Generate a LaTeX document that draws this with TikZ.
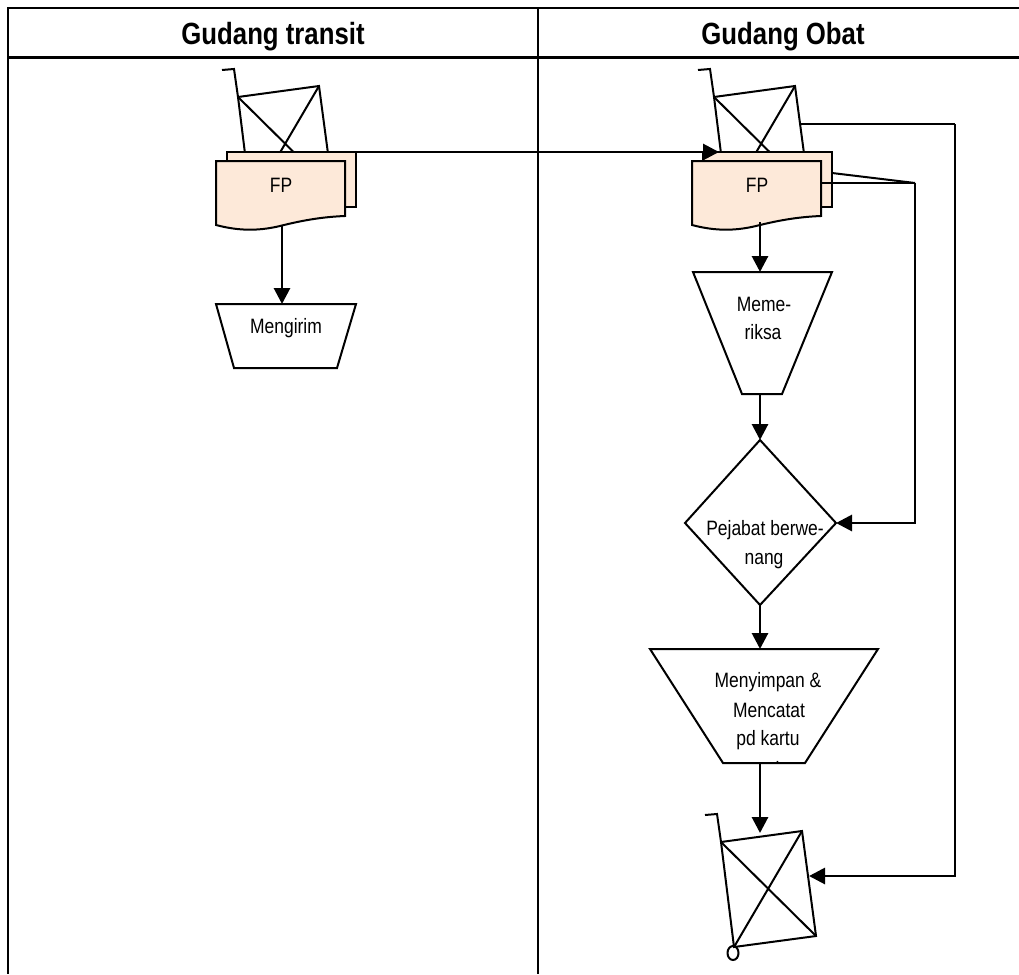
\documentclass[tikz,border=0pt]{standalone}
\usepackage{fontspec}
\setmainfont[FakeStretch=0.84]{Liberation Sans}
\usetikzlibrary{arrows.meta}
\definecolor{docfill}{HTML}{FDE9D9}
\tikzset{
  grid line/.style={line width=1.9pt,black},
  shape line/.style={line width=1.5pt,black,line join=miter},
  link/.style={line width=1.5pt,black},
  flow/.style={line width=2.2pt,black,-{Triangle[length=12pt,width=12pt]}},
  label/.style={anchor=base,inner sep=0pt,font=\fontsize{15.6pt}{18pt}\selectfont,text=black},
  head/.style={anchor=base,inner sep=0pt,font=\fontsize{23pt}{26pt}\selectfont\bfseries,text=black},
  cart/.pic={
    \draw[shape line] (-16,-27) -- (-4,-28) -- (0,0) -- (13,105) -- (95,94) -- (81,-11) -- (0,0);
    \draw[shape line] (0,0) -- (95,94) (81,-11) -- (13,105);
    \draw[shape line] (12,111) ellipse [x radius=5.5,y radius=7];
  },
  docs/.pic={
    \draw[shape line,fill=docfill] (-11,55) rectangle (118,110);
    \coordinate (-backright) at (118,55);
    \coordinate (-backleft) at (5,55);
  },
  docfront/.pic={
    \draw[shape line,fill=docfill] (-22,64) -- (107,64) -- (107,119)
      .. controls (82,120) and (62,124) .. (42,129)
      .. controls (17,135) and (-3,133) .. (-22,128) -- cycle;
    \node[label] (-text) at (43,95) {FP};
  }
}
\begin{document}
\begin{tikzpicture}[x=0.75pt,y=-0.75pt]
\useasboundingbox (0,0) rectangle (1019,974);
\fill[white] (0,0) rectangle (1019,974);

% table
\draw[grid line] (1019,8) -- (8,8) -- (8,974);
\draw[grid line] (8,57.5) -- (1019,57.5);
\draw[grid line] (538,8) -- (538,974);
\node[head] (gt) at (273,45) {Gudang transit};
\node[head] (go) at (783,45) {Gudang Obat};

% upper carts and document stacks
\pic (cartA) at (238,97) {cart};
\pic (cartB) at (714,97) {cart};
\pic (docA) at (238,97) {docs};
\pic (docB) at (714,97) {docs};

% transfer arrow sits between the back and the front sheet
\draw[flow] (docA-backright) -- (docB-backleft);

\pic (frontA) at (238,97) {docfront};
\pic (frontB) at (714,97) {docfront};

% shapes
\draw[shape line] (216,304) -- (282,304) coordinate (kirimTop) -- (356,304) -- (337,368) -- (234,368) -- cycle;
\node[label] (kirim) at (286,333) {Mengirim};

\draw[shape line] (693,272) -- (760,272) coordinate (periksaTop) -- (832,272) -- (782,394) -- (760,394) coordinate (periksaBot) -- (742,394) -- cycle;
\node[label] (periksa1) at (764,311) {Meme-};
\node[label] (periksa2) at (763,339) {riksa};

\draw[shape line] (760,440) coordinate (decTop) -- (836,523) coordinate (decRight) -- (760,605) coordinate (decBot) -- (685,523) -- cycle;
\node[label] (dec1) at (765,535) {Pejabat berwe-};
\node[label] (dec2) at (764,564) {nang};

\begin{scope}
\clip (650,640) rectangle (878,761);
\node[label] (simpan4) at (764,776) {stock};
\end{scope}
\draw[shape line] (650,649) -- (760,649) coordinate (simpanTop) -- (878,649) -- (805,763) -- (760,763) coordinate (simpanBot) -- (723,763) -- cycle;
\node[label] (simpan1) at (768,687) {Menyimpan \&};
\node[label] (simpan2) at (769,717) {Mencatat};
\node[label] (simpan3) at (768,745) {pd kartu};

% bottom cart
\pic (cartC) at (721,842) {cart};

% connectors
\coordinate (tailA) at (282,226);
\coordinate (tailB) at (760,222);
\draw[flow] (tailA) -- (kirimTop);
\draw[flow] (tailB) -- (periksaTop);
\draw[flow] (periksaBot) -- (decTop);
\draw[flow] (decBot) -- (simpanTop);
\draw[flow] (simpanBot) -- (760,833);

\coordinate (busA) at (915,183);
\coordinate (busB) at (955,124);
\coordinate (busStart) at (801,124);
\draw[link] (832,173) -- (busA);
\draw[link] (821,183) -- (busA);
\draw[flow] (busA) -- (915,523) -- (decRight);
\draw[link] (busStart) -- (busB);
\draw[flow] (busB) -- (955,876) -- (809,876);
\end{tikzpicture}
\end{document}
